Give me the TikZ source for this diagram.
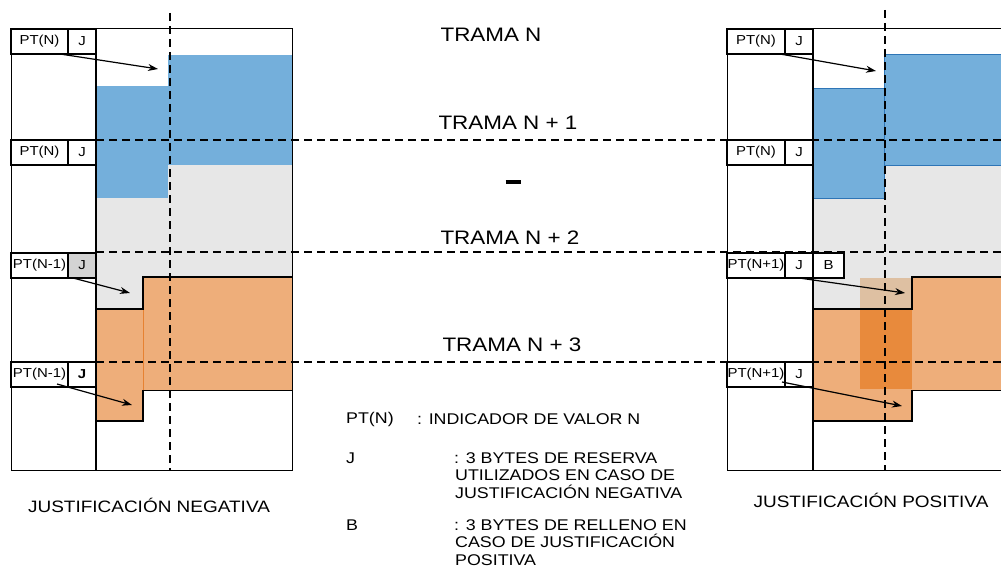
\documentclass[tikz,border=0pt]{standalone}
\usepackage{fontspec}
\setmainfont[FakeStretch=1.15]{Liberation Sans}
\usetikzlibrary{arrows.meta, positioning, calc}

\definecolor{fillblue}{RGB}{116,175,219}
\definecolor{edgeblue}{RGB}{46,117,182}
\definecolor{fillgray}{RGB}{231,231,231}
\definecolor{fillorange}{RGB}{238,174,122}
\definecolor{edgeorange}{RGB}{230,130,50}
\definecolor{filltan}{RGB}{222,192,162}
\definecolor{filldark}{RGB}{232,138,60}
\definecolor{jgray}{RGB}{211,211,211}

\begin{document}
\begin{tikzpicture}[x=1pt, y=-1pt,
    ptbox/.style={draw, fill=white, line width=1.3pt, minimum height=25pt, inner sep=0pt, outer sep=0pt, anchor=north west, font=\fontsize{13}{13}\selectfont},
    thinframe/.style={line width=1pt},
    stepline/.style={line width=1.3pt},
    cutline/.style={line width=2pt, dash pattern=on 8pt off 5pt},
    ptr/.style={-{Stealth[length=10pt,width=7pt]}, line width=1.2pt},
    trama/.style={font=\fontsize{19.5}{22}\selectfont},
    legendtxt/.style={font=\fontsize{15.5}{17.5}\selectfont, inner sep=0pt},
    captxt/.style={font=\fontsize{16.5}{18}\selectfont}]
    \useasboundingbox (0,0) rectangle (1001,567);

    % Left frame: payload areas
    \fill[fillblue] (96,86) rectangle (168,198);
    \fill[fillblue] (168,55) rectangle (292,165);
    \fill[fillgray] (96,198) -- (168,198) -- (168,165) -- (292,165) -- (292,277) -- (143,277) -- (143,309) -- (96,309) -- cycle;
    \fill[fillorange] (96,309) -- (143,309) -- (143,277) -- (292,277) -- (292,390) -- (143,390) -- (143,421) -- (96,421) -- cycle;
    \draw[edgeorange, line width=0.6pt] (143,309) -- (143,390);
    \draw[stepline] (96,309) -| (143,277) -- (292,277);
    \draw[stepline] (96,421) -| (143,390);
    \draw[thinframe] (143,390) -- (292,390);
    \draw[thinframe] (11,29) rectangle (292,470);
    \draw[line width=1.4pt] (96,29) -- (96,470);

    % Right frame: payload areas
    \fill[fillgray] (813,198) -- (884,198) -- (884,165) -- (1001,165) -- (1001,277) -- (912,277) -- (912,309) -- (813,309) -- cycle;
    \fill[fillorange] (813,309) -- (912,309) -- (912,277) -- (1001,277) -- (1001,390) -- (912,390) -- (912,421) -- (813,421) -- cycle;
    \fill[filltan] (860,278) rectangle (912,309);
    \fill[filldark] (860,309) rectangle (912,389);
    \filldraw[fill=fillblue, draw=edgeblue] (813,88) rectangle (884,198);
    \filldraw[fill=fillblue, draw=edgeblue] (884,54) rectangle (1001,165);
    \draw[stepline] (813,309) -| (912,277) -- (1001,277);
    \draw[stepline] (813,421) -| (912,390);
    \draw[thinframe] (912,390) -- (1001,390);
    \draw[thinframe] (1001,29) -- (727,29) -- (727,470) -- (1001,470);
    \draw[line width=1.4pt] (813,29) -- (813,470);

    % Frame limits
    \draw[cutline] (170,13) -- (170,470);
    \draw[cutline] (885,10) -- (885,470);
    \draw[cutline] (96,140) -- (1001,140);
    \draw[cutline] (96,252) -- (1001,252);
    \draw[cutline] (96,362) -- (1001,362);

    % Pointer bytes, left
    \node[ptbox, minimum width=57pt] (ptLa) at (11,29) {PT(N)};
    \node[ptbox, minimum width=28pt, right=0pt of ptLa] (jLa) {J};
    \node[ptbox, minimum width=57pt] (ptLb) at (11,140) {PT(N)};
    \node[ptbox, minimum width=28pt, right=0pt of ptLb] (jLb) {J};
    \node[ptbox, minimum width=57pt] (ptLc) at (11,253) {PT(N-1)};
    \node[ptbox, minimum width=28pt, fill=jgray, right=0pt of ptLc] (jLc) {J};
    \node[ptbox, minimum width=57pt] (ptLd) at (11,362) {PT(N-1)};
    \node[ptbox, minimum width=28pt, right=0pt of ptLd] (jLd) {\bfseries J};

    % Pointer bytes, right
    \node[ptbox, minimum width=58pt] (ptRa) at (727,29) {PT(N)};
    \node[ptbox, minimum width=28pt, right=0pt of ptRa] (jRa) {J};
    \node[ptbox, minimum width=58pt] (ptRb) at (727,140) {PT(N)};
    \node[ptbox, minimum width=28pt, right=0pt of ptRb] (jRb) {J};
    \node[ptbox, minimum width=58pt] (ptRc) at (727,253) {PT(N+1)};
    \node[ptbox, minimum width=28pt, right=0pt of ptRc] (jRc) {J};
    \node[ptbox, minimum width=31pt, right=0pt of jRc] (bRc) {B};
    \node[ptbox, minimum width=58pt] (ptRd) at (727,362) {PT(N+1)};
    \node[ptbox, minimum width=28pt, right=0pt of ptRd] (jRd) {J};

    % Pointers
    \coordinate (hLa) at (158,69);
    \coordinate (hLc) at (130,293);
    \coordinate (hLd) at (132,405);
    \coordinate (hRa) at (876,71);
    \coordinate (hRc) at (905,293);
    \coordinate (hRd) at (902,406);
    \draw[ptr] ([xshift=-8pt]ptLa.south east) -- (hLa);
    \draw[ptr] ([xshift=5pt]jLc.south west) -- (hLc);
    \draw[ptr] ([xshift=-11pt,yshift=3pt]ptLd.south east) -- (hLd);
    \draw[ptr] ([xshift=-5pt]ptRa.south east) -- (hRa);
    \draw[ptr] (jRc.south) -- (hRc);
    \draw[ptr] ([xshift=-3pt,yshift=5pt]ptRd.south east) -- (hRd);

    % Frame labels
    \node[trama] (tN) at (491,35) {TRAMA N};
    \node[trama] (tN1) at (508,123) {TRAMA N + 1};
    \node[inner sep=0pt] (gap) at (513,182) {\rule{15pt}{4.5pt}};
    \node[trama] (tN2) at (510,238) {TRAMA N + 2};
    \node[trama] (tN3) at (512,345) {TRAMA N + 3};

    % Legend
    \node[legendtxt, anchor=west] (lgP) at (346,419) {PT(N)};
    \node[legendtxt, anchor=west] (lgPt) at (417,419) {: INDICADOR DE VALOR N};
    \node[legendtxt, anchor=west] (lgJ) at (346,458) {J};
    \node[legendtxt, anchor=north west, align=left] (lgJt) at (454,452) {: 3 BYTES DE RESERVA\\\hspace{1pt}UTILIZADOS EN CASO DE\\\hspace{1pt}JUSTIFICACIÓN NEGATIVA};
    \node[legendtxt, anchor=west] (lgB) at (346,525) {B};
    \node[legendtxt, anchor=north west, align=left] (lgBt) at (454,519) {: 3 BYTES DE RELLENO EN\\\hspace{1pt}CASO DE JUSTIFICACIÓN\\\hspace{1pt}POSITIVA};

    % Captions
    \node[captxt] (negT) at (149,505) {JUSTIFICACIÓN NEGATIVA};
    \node[captxt] (posT) at (871,500) {JUSTIFICACIÓN POSITIVA};
\end{tikzpicture}
\end{document}
